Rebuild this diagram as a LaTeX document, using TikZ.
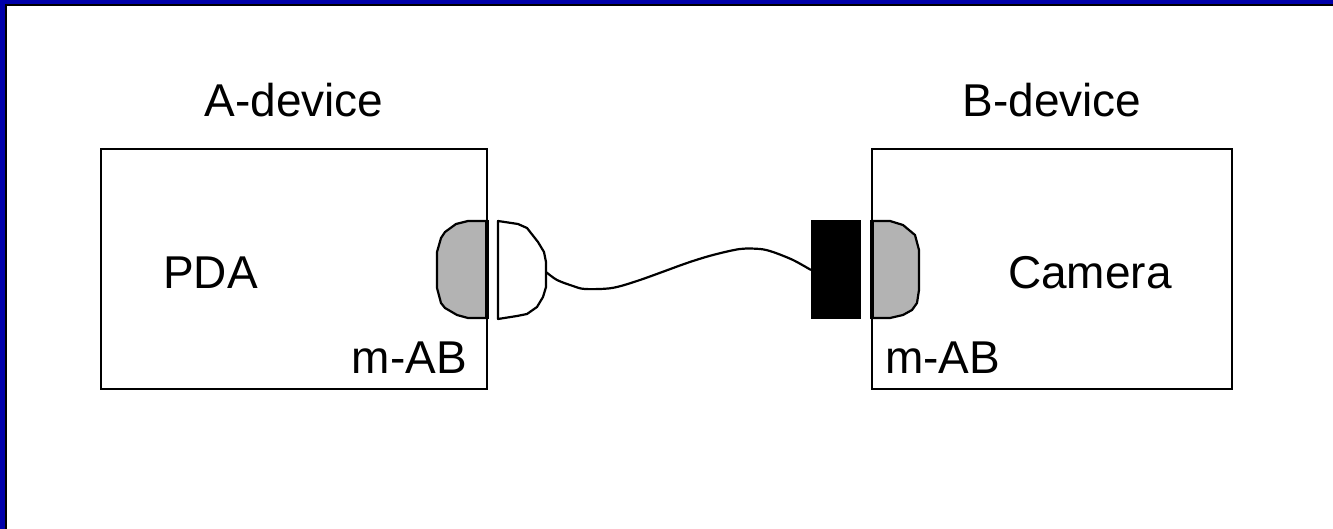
\documentclass[tikz,border=0pt]{standalone}
\usepackage{fontspec}
\setmainfont{Liberation Sans}
\definecolor{frameblue}{RGB}{0,0,170}
\definecolor{plugfill}{RGB}{179,179,179}
\tikzset{
  lbl/.style={font=\fontsize{46}{55}\selectfont, inner sep=0pt},
  devbox/.style={draw, line width=2.8pt},
  plugline/.style={draw, line width=2.2pt, line join=round}
}
\begin{document}
\begin{tikzpicture}[x=1pt,y=-1pt]
    \useasboundingbox (0,0) rectangle (1333,529);
    % slide frame
    \fill[frameblue] (0,0)--(1333,0)--(1333,4.3)--(0,4.3)--cycle;
    \fill[frameblue] (0,0)--(5.3,0)--(5.3,529)--(0,529)--cycle;
    \fill (5.3,4.3)--(1333,4.3)--(1333,6.3)--(5.3,6.3)--cycle;
    \fill (5.3,4.3)--(7.2,4.3)--(7.2,529)--(5.3,529)--cycle;

    % devices
    \draw[devbox] (101,149)--(487,149)--(487,389)--(101,389)--cycle;
    \draw[devbox] (872,149)--(1232,149)--(1232,389)--(872,389)--cycle;
    \node[lbl,anchor=base] (adev) at (294,117) {A-device};
    \node[lbl,anchor=base] (bdev) at (1052,117) {B-device};
    \node[lbl,anchor=base west] (pda) at (163,289) {PDA};
    \node[lbl,anchor=base east] (cam) at (1172,289) {Camera};
    \node[lbl,anchor=base east] (mabA) at (467,373) {m-AB};
    \node[lbl,anchor=base west] (mabB) at (885,373) {m-AB};

    % receptacles
    \filldraw[plugline,fill=plugfill] (487,221)--(468,221)--(456,224)--(445,232)--(441,238)--(437,252)--(437,288)--(441,303)--(445,308)--(457,315)--(468,318)--(487,318);
    \filldraw[plugline,fill=plugfill] (872,221)--(890,221)--(903,225)--(915,235)--(919,250)--(919,290)--(917,303)--(912,310)--(903,315)--(890,318)--(872,318);
    \draw[line width=3.4pt] (487,220)--(487,319);
    \draw[line width=3.4pt] (872,220)--(872,319);

    % plugs and cable
    \filldraw[plugline,fill=white] (498,221)--(518,224)--(527,228)--(538,242)--(544,252)--(546,262)--(546,287)--(543,297)--(537,307)--(527,314)--(517,316)--(498,319)--cycle;
    \fill (811,220)--(861,220)--(861,319)--(811,319)--cycle;
    \draw[line width=2.2pt] plot[smooth,tension=0.5] coordinates {(546,272) (557,280) (573,286) (585,289) (612,288) (640,280) (687,263) (713,255) (740,249) (760,249) (773,252) (793,260) (811,270)};
\end{tikzpicture}
\end{document}
